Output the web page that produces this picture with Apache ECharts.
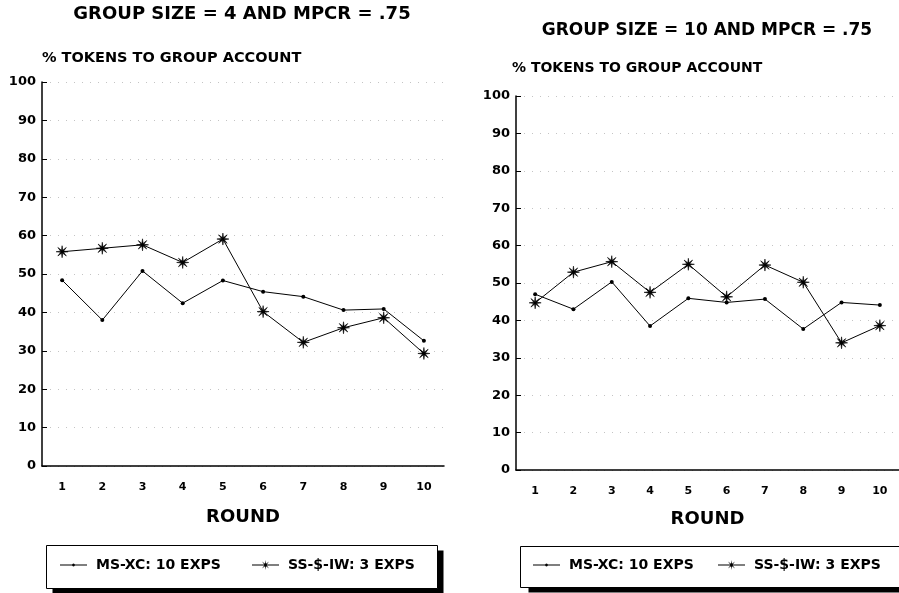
<!DOCTYPE html>
<html>
<head>
<meta charset="utf-8">
<script src="https://cdn.jsdelivr.net/npm/echarts@6/dist/echarts.min.js"></script>
<style>
html,body{margin:0;padding:0;background:#fff;}
#c{width:899px;height:593px;}
</style>
</head>
<body>
<div id="c"></div>
<script>
// ---- data ----
const rounds = ['1','2','3','4','5','6','7','8','9','10'];
const yTicks = [0,10,20,30,40,50,60,70,80,90,100];
const seriesNames = ['MS-XC: 10 EXPS', 'SS-$-IW: 3 EXPS'];
const titles = ['GROUP SIZE = 4 AND MPCR = .75', 'GROUP SIZE = 10 AND MPCR = .75'];
const yAxisTitle = '% TOKENS TO GROUP ACCOUNT';
const xAxisTitle = 'ROUND';
const g4_msxc = [48.4, 38.0, 50.8, 42.4, 48.3, 45.4, 44.1, 40.6, 40.9, 32.6];
const g4_ssiw = [55.8, 56.7, 57.6, 53.0, 59.1, 40.2, 32.2, 36.0, 38.6, 29.3];
const g10_msxc = [47.0, 43.0, 50.3, 38.5, 45.9, 44.8, 45.7, 37.7, 44.8, 44.1];
const g10_ssiw = [44.7, 52.9, 55.7, 47.5, 55.0, 46.3, 54.8, 50.2, 34.0, 38.6];

// ---- styling ----
const FONT = '"DejaVu Sans", "Liberation Sans", Arial, sans-serif';
function starPts(cx, cy, ro, ri) {
  const pts = [];
  for (let i = 0; i < 16; i++) {
    const a = i * Math.PI / 8;
    const r = (i % 2 === 0) ? ro : ri;
    pts.push((cx + r * Math.cos(a)).toFixed(2) + ' ' + (cy + r * Math.sin(a)).toFixed(2));
  }
  return 'M' + pts.join(' L') + ' Z';
}
function polyPts(cx, cy, r, n) {
  const pts = [];
  for (let i = 0; i < n; i++) {
    const a = i * 2 * Math.PI / n;
    pts.push((cx + r * Math.cos(a)).toFixed(2) + ' ' + (cy + r * Math.sin(a)).toFixed(2));
  }
  return 'M' + pts.join(' L') + ' Z';
}
const STAR = 'path://' + starPts(10, 10, 10, 2.6);
// legend icons: line + marker, drawn in an itemWidth x itemHeight box
const ICON_SS = 'path://M0 4.5 L27 4.5 L27 5.5 L0 5.5 Z ' + starPts(13.5, 5, 5, 1.3);
const ICON_MS = 'path://M0 1 L27 1 L27 2 L0 2 Z ' + polyPts(13.5, 1.5, 1.5, 8);

const chart = echarts.init(document.getElementById('c'), null, {renderer: 'canvas'});

function xAxis(gi, labelMargin, nameGap) {
  return {
    type: 'category', gridIndex: gi, data: rounds, boundaryGap: true,
    name: xAxisTitle, nameLocation: 'middle', nameGap: nameGap,
    nameTextStyle: {fontFamily: FONT, fontWeight: 'bold', fontSize: 18, color: '#000'},
    axisLine: {lineStyle: {color: '#000', width: 1.5}},
    axisTick: {inside: true, alignWithLabel: true, length: 5, lineStyle: {color: '#000', width: 1}},
    axisLabel: {fontFamily: FONT, fontWeight: 'bold', fontSize: 11, color: '#000', margin: labelMargin},
    splitLine: {show: false}
  };
}
function yAxis(gi, nameGap, namePad, nameSize) {
  return {
    type: 'value', gridIndex: gi, min: yTicks[0], max: yTicks[yTicks.length-1], interval: 10,
    name: yAxisTitle, nameLocation: 'end', nameGap: nameGap,
    nameTextStyle: {fontFamily: FONT, fontWeight: 'bold', fontSize: nameSize, color: '#000', align: 'left', padding: namePad},
    axisLine: {show: true, lineStyle: {color: '#000', width: 1.5}},
    axisTick: {show: true, inside: true, length: 5, lineStyle: {color: '#000', width: 1}},
    axisLabel: {fontFamily: FONT, fontWeight: 'bold', fontSize: 13, color: '#000', margin: 6},
    splitLine: {show: true, lineStyle: {color: '#c4c4c4', width: 1, type: [1, 7]}}
  };
}
function lineSeries(name, gi, data, star) {
  return {
    name: name, type: 'line', xAxisIndex: gi, yAxisIndex: gi, data: data,
    symbol: star ? STAR : 'circle', symbolSize: star ? 12 : 4,
    showAllSymbol: true,
    lineStyle: {color: '#000', width: 1},
    itemStyle: {color: '#000', borderColor: '#000', borderWidth: star ? 0.6 : 0},
    emphasis: {disabled: true},
    z: star ? 3 : 2
  };
}
function legend(name, icon, left, top, itemH) {
  return {
    left: left, top: top, orient: 'horizontal',
    data: [{name: name, icon: icon, itemStyle: {color: '#000', borderWidth: 0}}],
    itemWidth: 27, itemHeight: itemH, itemGap: 0,
    padding: 0,
    textStyle: {fontFamily: FONT, fontWeight: 'bold', fontSize: 14, color: '#000', padding: [0, 0, 0, 4]},
    selectedMode: false
  };
}
function box(x, y, w, h, sx, sy) {
  return [
    {type: 'rect', z: 0, shape: {x: x + sx, y: y + sy, width: w, height: h}, style: {fill: '#000'}},
    {type: 'rect', z: 1, shape: {x: x, y: y, width: w, height: h}, style: {fill: '#fff', stroke: '#000', lineWidth: 1}}
  ];
}

chart.setOption({
  animation: false,
  backgroundColor: '#fff',
  graphic: [
    {type: 'text', x: 242, y: 14, style: {text: titles[0], font: 'bold 18px ' + FONT, fill: '#000', textAlign: 'center', textVerticalAlign: 'middle'}},
    {type: 'text', x: 707, y: 31, style: {text: titles[1], font: 'bold 17px ' + FONT, fill: '#000', textAlign: 'center', textVerticalAlign: 'middle'}}
  ].concat(box(46.5, 545.5, 391, 43, 6, 5)).concat(box(520.5, 546.5, 400, 41, 8, 5)),
  grid: [
    {left: 42, top: 82, width: 402, height: 384, containLabel: false},
    {left: 516, top: 96, width: 388, height: 374, containLabel: false}
  ],
  xAxis: [xAxis(0, 16, 42), xAxis(1, 16, 40)],
  yAxis: [yAxis(0, 16, [0, 0, 0, 0], 14.5), yAxis(1, 21, [0, 0, 0, -4], 14)],
  legend: [
    legend(seriesNames[0], ICON_MS, 60, 558, 3),
    legend(seriesNames[1], ICON_SS, 252, 558, 10),
    legend(seriesNames[0], ICON_MS, 533, 558, 3),
    legend(seriesNames[1], ICON_SS, 718, 558, 10)
  ],
  series: [
    lineSeries(seriesNames[0], 0, g4_msxc, false),
    lineSeries(seriesNames[1], 0, g4_ssiw, true),
    lineSeries(seriesNames[0], 1, g10_msxc, false),
    lineSeries(seriesNames[1], 1, g10_ssiw, true)
  ]
});
</script>
</body>
</html>
